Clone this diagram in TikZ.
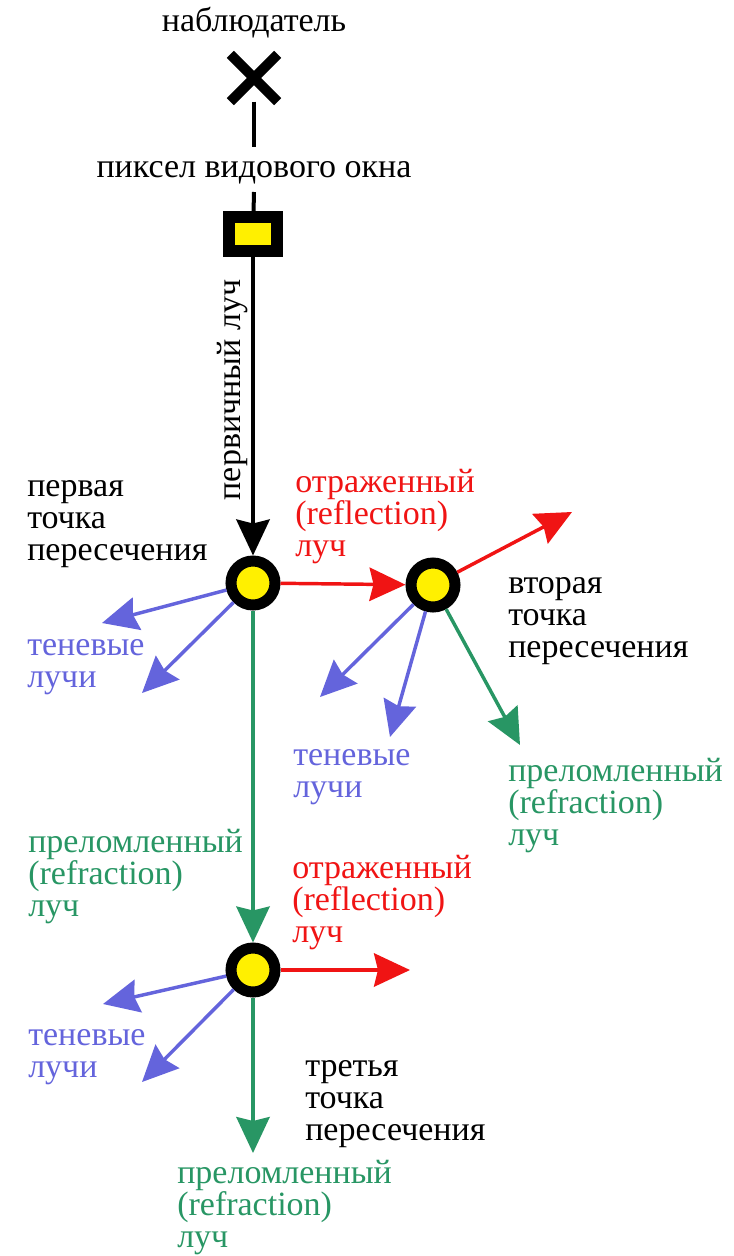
\documentclass[tikz,border=0pt]{standalone}
\usepackage{fontspec}
\setmainfont{Liberation Serif}
\usetikzlibrary{arrows.meta,shapes.misc}
\definecolor{rred}{RGB}{240,20,20}
\definecolor{rblue}{RGB}{100,100,220}
\definecolor{rgreen}{RGB}{40,150,100}
\definecolor{ryellow}{RGB}{255,240,0}
\newcommand\tlead{\rule{0pt}{18pt}}
\begin{document}
\begin{tikzpicture}[x=0.75pt,y=-0.75pt,
  lbl/.style={font=\fontsize{25.5}{24}\selectfont, inner sep=0pt},
  blk/.style={lbl, align=left, anchor=north west},
  hit/.style={circle, draw=black, fill=ryellow, line width=8.25pt, minimum size=33pt, inner sep=0pt},
  tipA/.style={-{Stealth[length=27pt,width=25pt,inset=3pt]}},
  ray/.style={line width=2.6pt, tipA},
  blackline/.style={line width=3pt, draw=black},
]
\useasboundingbox (0,0) rectangle (733,1256);
% observer and pixel
\node[lbl, anchor=base] (obsT) at (254,32) {наблюдатель};
\node[cross out, draw=black, line width=7.5pt, minimum size=28pt, inner sep=0pt] (obs) at (254,78) {};
\node[lbl, anchor=base] (pixT) at (254,177) {пиксел видового окна};
\coordinate (gapTop) at (254,147);
\coordinate (gapBot) at (254,192);
\node[rectangle, draw=black, fill=ryellow, line width=9pt, minimum width=36pt, minimum height=25.5pt, inner sep=0pt] (pix) at (253,234) {};
\draw[blackline] (obs) -- (gapTop);
\draw[blackline] (gapBot) -- (pix);
\node[lbl, anchor=base, rotate=90] (primT) at (240,390) {первичный луч};
% hit points
\node[hit] (p1) at (253,583) {};
\node[hit] (p2) at (433,585) {};
\node[hit] (p3) at (253,970) {};
\draw[blackline, line width=3pt, tipA] (pix) -- (p1);
% ray ends
\coordinate (r2) at (572,512);
\coordinate (b1a) at (102,623);
\coordinate (b1b) at (142,693);
\coordinate (b2a) at (320,697);
\coordinate (b2b) at (390,737);
\coordinate (g2) at (520,745);
\coordinate (r3) at (410,970);
\coordinate (b3a) at (103,1004);
\coordinate (b3b) at (142,1082);
\coordinate (g3) at (253,1153);
% rays
\draw[ray, rred] (p1) -- (p2);
\draw[ray, rred] (p2) -- (r2);
\draw[ray, rblue] (p1) -- (b1a);
\draw[ray, rblue] (p1) -- (b1b);
\draw[ray, rblue] (p2) -- (b2a);
\draw[ray, rblue] (p2) -- (b2b);
\draw[ray, rgreen] (p2) -- (g2);
\draw[ray, rgreen] (p1) -- (p3);
\draw[ray, rred] (p3) -- (r3);
\draw[ray, rblue] (p3) -- (b3a);
\draw[ray, rblue] (p3) -- (b3b);
\draw[ray, rgreen] (p3) -- (g3);
% labels
\node[blk] (t1) at (27,472) {\tlead первая\\точка\\пересечения};
\node[blk, text=rred] (red1) at (295,468) {\tlead отраженный\\(reflection)\\луч};
\node[blk] (t2) at (508,569) {\tlead вторая\\точка\\пересечения};
\node[blk, text=rblue] (blue1) at (27,631) {\tlead теневые\\лучи};
\node[blk, text=rblue] (blue2) at (293,741) {\tlead теневые\\лучи};
\node[blk, text=rgreen] (green2) at (508,757) {\tlead преломленный\\(refraction)\\луч};
\node[blk, text=rgreen] (green1) at (28,828) {\tlead преломленный\\(refraction)\\луч};
\node[blk, text=rred] (red3) at (292,854) {\tlead отраженный\\(reflection)\\луч};
\node[blk, text=rblue] (blue3) at (28,1021) {\tlead теневые\\лучи};
\node[blk] (t3) at (305,1052) {\tlead третья\\точка\\пересечения};
\node[blk, text=rgreen] (green3) at (177,1159) {\tlead преломленный\\(refraction)\\луч};
\end{tikzpicture}
\end{document}
